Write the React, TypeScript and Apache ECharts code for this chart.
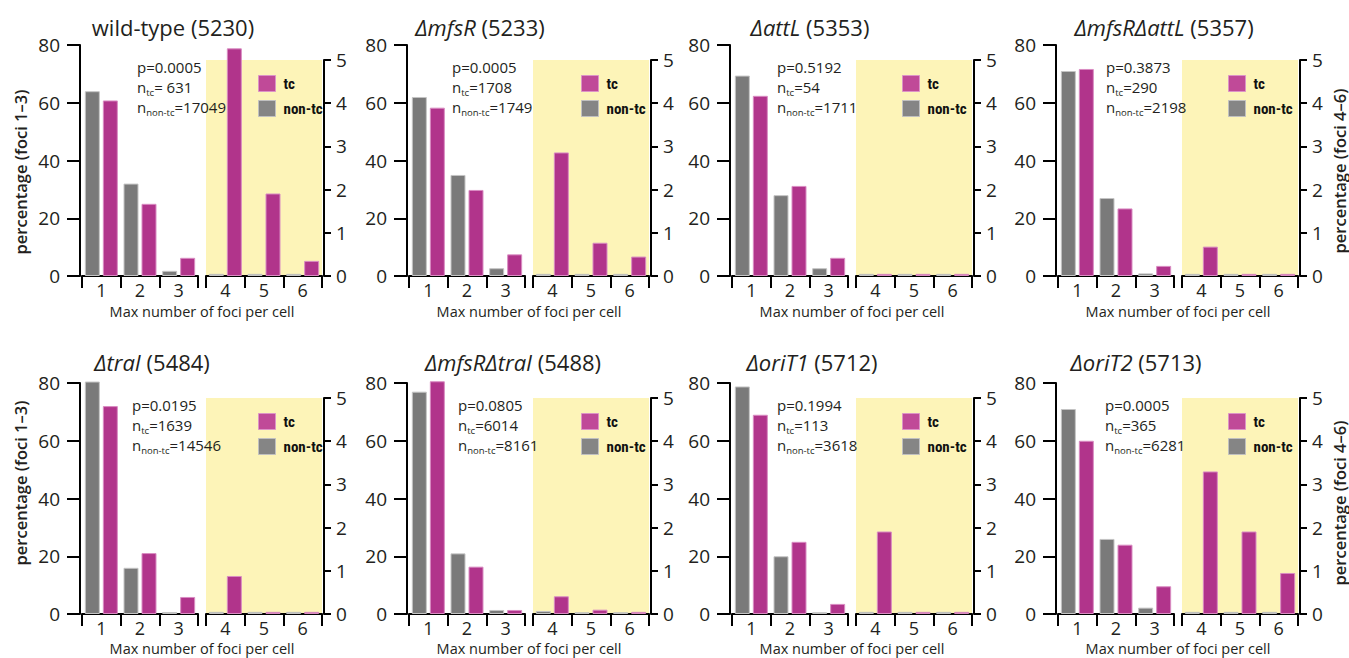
import React, { useEffect, useRef } from 'react';
import * as echarts from 'echarts';

// ---------- data ----------
const leftCategories = ['1', '2', '3'];
const rightCategories = ['4', '5', '6'];
const strainNames = ['wild-type', 'ΔmfsR', 'ΔattL', 'ΔmfsRΔattL', 'ΔtraI', 'ΔmfsRΔtraI', 'ΔoriT1', 'ΔoriT2'];
const strainIds = ['5230', '5233', '5353', '5357', '5484', '5488', '5712', '5713'];
const pValues = ['0.0005', '0.0005', '0.5192', '0.3873', '0.0195', '0.0805', '0.1994', '0.0005'];
const nTc = [' 631', '1708', '54', '290', '1639', '6014', '113', '365'];
const nNonTc = ['17049', '1749', '1711', '2198', '14546', '8161', '3618', '6281'];
const seriesNames = ['tc', 'non-tc'];

// percentage of cells, foci 1-3 (left axis)
const nonTcFoci13 = [
  [64, 32, 1.8],
  [62, 35, 2.7],
  [69.4, 28, 2.7],
  [71, 27, 0.9],
  [80.5, 16, 0.7],
  [77, 21, 1.4],
  [78.8, 20, 0.6],
  [71, 26, 2.2],
];
const tcFoci13 = [
  [60.8, 25, 6.3],
  [58.3, 29.8, 7.5],
  [62.4, 31.2, 6.3],
  [71.7, 23.4, 3.5],
  [72, 21.1, 5.9],
  [80.6, 16.4, 1.4],
  [69, 25, 3.5],
  [60, 24, 9.6],
];
// percentage of cells, foci 4-6 (right axis)
const nonTcFoci46 = [
  [0.05, 0.05, 0.05],
  [0.05, 0.05, 0.05],
  [0.05, 0.05, 0.05],
  [0.05, 0.05, 0.05],
  [0.05, 0.05, 0.05],
  [0.07, 0.04, 0.04],
  [0.05, 0.05, 0.05],
  [0.05, 0.05, 0.05],
];
const tcFoci46 = [
  [5.27, 1.91, 0.35],
  [2.86, 0.77, 0.45],
  [0.05, 0.05, 0.05],
  [0.68, 0.05, 0.05],
  [0.88, 0.05, 0.05],
  [0.41, 0.1, 0.05],
  [1.91, 0.05, 0.05],
  [3.3, 1.91, 0.95],
];
const leftTicks = { min: 0, max: 80, interval: 20 };
const rightTicks = { min: 0, max: 5, interval: 1 };

// ---------- layout ----------
const colLeft = [82, 409, 732, 1058];
const rowOffset = [0, 338];
const titleCenterX = [173, 480, 810, 1164, 152, 513, 812, 1136];
const titleCenterY = [27, 362];
const annotX = [137, 452, 777, 1106, 132, 458, 777, 1105];
const legendLeft = [253, 576, 897, 1223];
const leftNameY = [172, 483];
const rightNameY = [171, 503];
const xNameY = [311, 648];

const FONT = "'Open Sans', 'Noto Sans', sans-serif";
const LEGEND_FONT = "'Roboto Condensed', 'Liberation Sans Narrow', Roboto, sans-serif";
const INK = '#231f20';
const GRAY = '#7a7a7a';
const MAG = '#b1348b';
const YELLOW = '#fdf4b8';

function buildOption() {
  const grids: any[] = [];
  const xAxes: any[] = [];
  const yAxes: any[] = [];
  const series: any[] = [];
  const legends: any[] = [];
  const elements: any[] = [];

  const axisLine = { show: true, lineStyle: { color: '#000', width: 2 } };

  for (let i = 0; i < 8; i++) {
    const row = Math.floor(i / 4);
    const col = i % 4;
    const dy = rowOffset[row];
    const x0 = colLeft[col];
    const gL = 2 * i;
    const gR = 2 * i + 1;

    grids.push({ left: x0, top: 45 + dy, width: 116, height: 231 });
    grids.push({
      left: x0 + 124, top: 60 + dy, width: 116, height: 216,
      show: true, backgroundColor: YELLOW, borderWidth: 0,
    });

    [gL, gR].forEach((g, k) => {
      xAxes.push({
        type: 'category', gridIndex: g, data: k === 0 ? leftCategories : rightCategories,
        position: 'bottom', offset: 3,
        axisLine,
        axisTick: { show: true, length: 12, interval: 0, lineStyle: { color: '#000', width: 2 } },
        axisLabel: { fontSize: 18, color: INK, fontFamily: FONT, margin: 2, interval: 0 },
        splitLine: { show: false },
      });
    });

    yAxes.push({
      type: 'value', gridIndex: gL, position: 'left', offset: 2, ...leftTicks,
      axisLine,
      axisTick: { show: true, length: 13, lineStyle: { color: '#000', width: 2 } },
      axisLabel: { fontSize: 19, color: INK, fontFamily: FONT, margin: 20 },
      splitLine: { show: false },
    });
    yAxes.push({
      type: 'value', gridIndex: gR, position: 'right', offset: 2, ...rightTicks,
      axisLine,
      axisTick: { show: true, length: 7, lineStyle: { color: '#000', width: 2 } },
      axisLabel: { fontSize: 19, color: INK, fontFamily: FONT, margin: 12 },
      splitLine: { show: false },
    });

    const barBase = { type: 'bar', barWidth: 15, barGap: '20%', clip: false, z: 3 };
    const grayStyle = { color: GRAY, borderColor: '#c4c4c4', borderWidth: 1 };
    const magStyle = { color: MAG, borderColor: '#d98cc2', borderWidth: 1 };
    series.push({ ...barBase, name: 'non-tc', xAxisIndex: gL, yAxisIndex: gL, data: nonTcFoci13[i], itemStyle: grayStyle });
    series.push({ ...barBase, name: 'tc', xAxisIndex: gL, yAxisIndex: gL, data: tcFoci13[i], itemStyle: magStyle });
    series.push({ ...barBase, name: 'non-tc', xAxisIndex: gR, yAxisIndex: gR, data: nonTcFoci46[i], itemStyle: grayStyle });
    series.push({ ...barBase, name: 'tc', xAxisIndex: gR, yAxisIndex: gR, data: tcFoci46[i], itemStyle: magStyle });

    legends.push({
      orient: 'vertical', left: legendLeft[col], top: 70 + dy,
      itemWidth: 17, itemHeight: 16, itemGap: 8, icon: 'rect', selectedMode: false,
      data: [
        { name: seriesNames[0], itemStyle: { color: '#c04a98', borderColor: '#dc94c6', borderWidth: 1 } },
        { name: seriesNames[1], itemStyle: { color: '#858585', borderColor: '#c0c0c0', borderWidth: 1 } },
      ],
      textStyle: { fontFamily: LEGEND_FONT, fontWeight: 'bold', fontSize: 15, color: '#111', padding: [0, 0, 0, 3] },
    });

    // title
    const titleText = i === 0
      ? `{rm|${strainNames[i]} (${strainIds[i]})}`
      : `{it|${strainNames[i]}}{rm| (${strainIds[i]})}`;
    elements.push({
      type: 'text', x: titleCenterX[i], y: titleCenterY[row], z: 100,
      style: {
        text: titleText, textAlign: 'center', textVerticalAlign: 'middle',
        rich: {
          rm: { fontSize: 22, fontFamily: FONT, fill: INK },
          it: { fontSize: 22, fontFamily: FONT, fontStyle: 'italic', fill: INK },
        },
      },
    });

    // annotation
    elements.push({
      type: 'text', x: annotX[i], y: 57 + dy, z: 100,
      style: {
        text: `{n|p=${pValues[i]}}\n{n|n}{s|tc}{n|=${nTc[i]}}\n{n|n}{s|non-tc}{n|=${nNonTc[i]}}`,
        textAlign: 'left', textVerticalAlign: 'top',
        rich: {
          n: { fontSize: 15, lineHeight: 20, fontFamily: FONT, fill: INK },
          s: { fontSize: 9.5, lineHeight: 11, fontFamily: FONT, fill: INK, verticalAlign: 'bottom' },
        },
      },
    });

    // x axis name
    elements.push({
      type: 'text', x: x0 + 120, y: xNameY[row], z: 100,
      style: {
        text: 'Max number of foci per cell', textAlign: 'center', textVerticalAlign: 'middle',
        fontSize: 14.5, fontFamily: FONT, fill: INK,
      },
    });

    if (col === 0) {
      elements.push({
        type: 'text', x: 20, y: leftNameY[row], rotation: Math.PI / 2, z: 100,
        style: {
          text: 'percentage (foci 1–3)', textAlign: 'center', textVerticalAlign: 'middle',
          fontSize: 16.5, fontWeight: 600, fontFamily: FONT, fill: INK,
        },
      });
    }
    if (col === 3) {
      elements.push({
        type: 'text', x: 1339, y: rightNameY[row], rotation: Math.PI / 2, z: 100,
        style: {
          text: 'percentage (foci 4–6)', textAlign: 'center', textVerticalAlign: 'middle',
          fontSize: 16.5, fontWeight: 600, fontFamily: FONT, fill: INK,
        },
      });
    }
  }

  return {
    animation: false,
    backgroundColor: '#fff',
    textStyle: { fontFamily: FONT },
    grid: grids,
    xAxis: xAxes,
    yAxis: yAxes,
    legend: legends,
    series,
    graphic: { elements },
  };
}

export default function App() {
  const ref = useRef<HTMLDivElement>(null);
  useEffect(() => {
    if (!ref.current) return;
    const chart = echarts.init(ref.current, null, { renderer: 'svg' });
    chart.setOption(buildOption() as any);
    return () => chart.dispose();
  }, []);
  return (
    <div
      ref={ref}
      style={{ position: 'fixed', left: 0, top: 0, width: '1349px', height: '658px', background: '#fff' }}
    />
  );
}
